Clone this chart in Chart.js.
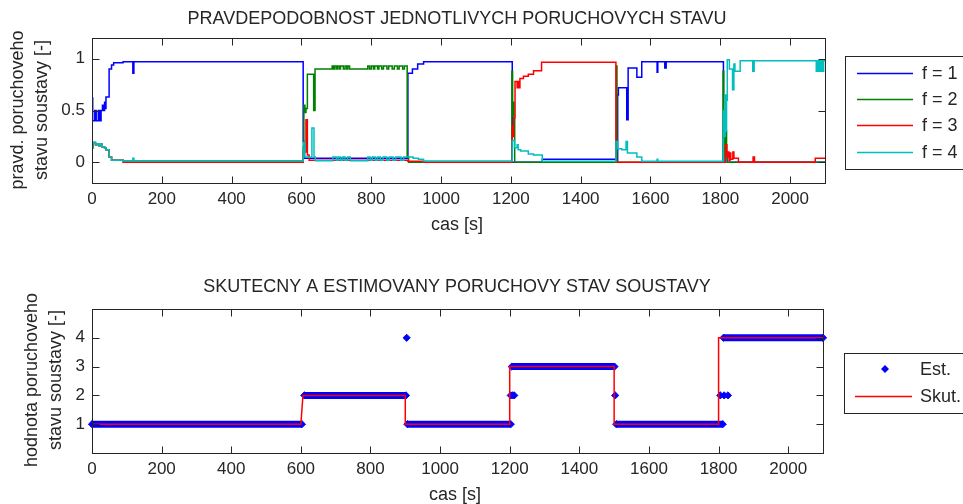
<!DOCTYPE html>
<html><head><meta charset="utf-8">
<script src="https://cdn.jsdelivr.net/npm/chart.js@4/dist/chart.umd.min.js"></script>
<style>
html,body{margin:0;padding:0;background:#fff;}
#wrap{position:relative;width:963px;height:504px;overflow:hidden;background:#fff;}
canvas{position:absolute;left:0;}
#c1{top:0;} #c2{top:252px;}
</style></head><body>
<div id="wrap"><canvas id="c1" width="963" height="252"></canvas><canvas id="c2" width="963" height="252"></canvas></div>
<script>
// ---------- DATA ----------
const timeTicks  = [0,200,400,600,800,1000,1200,1400,1600,1800,2000];
const probTicks  = [0,0.5,1];
const stateTicks = [1,2,3,4];

const topTitle    = 'PRAVDEPODOBNOST JEDNOTLIVYCH PORUCHOVYCH STAVU';
const bottomTitle = 'SKUTECNY A ESTIMOVANY PORUCHOVY STAV SOUSTAVY';
const xAxisLabel  = 'cas [s]';
const topYLabel   = ['pravd. poruchoveho','stavu soustavy [-]'];
const bottomYLabel= ['hodnota poruchoveho','stavu soustavy [-]'];
const probLabels  = ['f = 1','f = 2','f = 3','f = 4'];
const stateLabels = ['Est.','Skut.'];

// f = 1 (held values)
const f1Time = [0,2,8,12,18,22,26,30,33,36,38,40,49,56,62,89,117,120,605,607,
                905,918,933,950,1204,1290,1501,1506,1508,1532,1536,1561,1575,1619,1621,1641,1645,
                1809,1814,1816,1820,2100];
const f1Prob = [0.62,0.40,0.50,0.40,0.50,0.40,0.50,0.55,0.50,0.58,0.52,0.63,0.90,0.94,0.96,0.97,0.86,0.97,0.20,0.04,
                0.86,0.90,0.95,0.97,0.00,0.03,0.00,0.65,0.72,0.41,0.91,0.82,0.97,0.87,0.97,0.91,0.97,
                0.00,0.30,0.10,0.00,0.00];
// f = 2
const f2Time = [0,3,10,14,20,24,28,36,40,49,56,89,
                605,607,610,613,617,635,639,688,
                692,695,700,703,708,712,720,725,730,733,
                738,790,795,800,806,810,818,822,830,835,
                845,850,860,866,875,880,890,895,903,907,
                1203,1205,1207,1209,1211,1502,1504,1808,1810,1812,
                1815,1818,1820,2100];
const f2Prob = [0.14,0.19,0.17,0.18,0.16,0.18,0.15,0.14,0.12,0.05,0.02,0.012,
                0.15,0.55,0.48,0.52,0.85,0.50,0.90,0.93,
                0.90,0.93,0.90,0.93,0.90,0.93,0.90,0.93,0.90,0.93,
                0.90,0.93,0.90,0.93,0.90,0.93,0.90,0.93,0.90,0.93,
                0.90,0.93,0.90,0.93,0.90,0.93,0.90,0.93,0.05,0.00,
                0.88,0.45,0.58,0.42,0.00,0.93,0.00,0.88,0.45,0.05,
                0.30,0.10,0.00,0.00];
// f = 3
const f3Time = [0,3,10,14,20,24,28,36,40,49,
                56,89,605,613,617,622,905,950,1204,1206,
                1208,1212,1218,1220,1224,1226,1236,1250,1265,1288,
                1501,1815,1819,1822,1825,1828,1830,1836,1839,1852,
                1894,1898,2072,2100];
const f3Prob = [0.14,0.19,0.17,0.18,0.16,0.18,0.15,0.14,0.12,0.05,
                0.02,0.00,0.10,0.41,0.07,0.02,0.01,0.00,0.35,0.25,
                0.43,0.78,0.72,0.78,0.72,0.81,0.83,0.85,0.885,0.965,
                0.00,0.17,0.05,0.10,0.02,0.09,0.03,0.10,0.04,0.00,
                0.05,0.00,0.04,0.04];
// f = 4
const f4Time = [0,3,10,14,20,24,28,36,40,49,56,89,117,120,
                605,610,630,636,640,
                690,700,705,712,718,725,732,740,
                790,797,803,812,818,826,834,845,852,862,870,885,893,
                905,920,935,950,
                1204,1210,1218,1221,1228,1250,1265,1290,
                1501,1506,1518,1530,1534,1561,1575,1619,1621,
                1809,1812,1814,1816,1818,1820,1826,1835,1839,1842,1857,1893,1897,
                2075,2078,2081,2084,2087,2090,2093,2096,2100];
const f4Prob = [0.14,0.19,0.17,0.18,0.16,0.18,0.15,0.14,0.12,0.05,0.02,0.012,0.04,0.012,
                0.19,0.05,0.33,0.05,0.015,
                0.05,0.02,0.05,0.02,0.05,0.02,0.05,0.015,
                0.05,0.02,0.05,0.02,0.05,0.02,0.05,0.02,0.05,0.02,0.05,0.02,0.05,
                0.05,0.04,0.03,0.012,
                0.21,0.14,0.17,0.12,0.11,0.08,0.07,0.01,
                0.20,0.13,0.12,0.20,0.09,0.05,0.01,0.03,0.01,
                0.50,0.25,0.65,0.30,0.60,0.99,0.90,0.70,0.95,0.88,0.98,0.88,0.98,
                0.88,0.98,0.88,0.98,0.88,0.98,0.88,0.98,0.98];

// Estimated state: runs of constant estimate and isolated estimates
const estRunStart = [0,   610, 906,  1206, 1506, 1814];
const estRunEnd   = [603, 902, 1203, 1501, 1812, 2100];
const estRunState = [1,   2,   1,    3,    1,    4];
const estSingleTime  = [904, 1203, 1208, 1213, 1503, 1805, 1816, 1827];
const estSingleState = [4,   2,    2,    2,    2,    2,    2,    2];

// True state
const skutTime  = [0,600,606,900,900,1200,1200,1500,1500,1800,1800,2100];
const skutState = [1,1,2,2,1,1,3,3,1,1,4,4];

// ---------- DRAWING ----------
const FONT = '"Liberation Sans", Arial, Helvetica, sans-serif';
const INK = '#262626';
const pairs = (xs, ys) => xs.map((x,i)=>({x:x, y:ys[i]}));

function estPoints(){
  const pts = [];
  const items = [];
  estRunStart.forEach((s,i)=>items.push({t:s, run:[s,estRunEnd[i],estRunState[i]]}));
  estSingleTime.forEach((t,i)=>items.push({t:t, single:[t,estSingleState[i]]}));
  items.sort((a,b)=>a.t-b.t);
  items.forEach(it=>{
    if (it.run){ pts.push({x:it.run[0],y:it.run[2]},{x:it.run[1],y:it.run[2]}); pts.push({x:it.run[1],y:null}); }
    else { pts.push({x:it.single[0],y:it.single[1]}); pts.push({x:it.single[0],y:null}); }
  });
  return pts;
}

function diamond(ctx,x,y,r){
  ctx.beginPath(); ctx.moveTo(x,y-r); ctx.lineTo(x+r,y); ctx.lineTo(x,y+r); ctx.lineTo(x-r,y); ctx.closePath(); ctx.fill();
}

const decor = {
  id:'decor',
  afterDraw(chart, args, o){
    const {ctx, chartArea:a, scales} = chart;
    ctx.save();
    ctx.strokeStyle = INK; ctx.lineWidth = 1;
    const L = Math.round(a.left)+0.5, R = Math.round(a.right)+0.5, T = Math.round(a.top)+0.5, B = Math.round(a.bottom)+0.5;
    ctx.strokeRect(L, T, R-L, B-T);
    const tl = 7;
    ctx.beginPath();
    scales.x.ticks.forEach(t=>{ const px = Math.round(scales.x.getPixelForValue(t.value))+0.5;
      ctx.moveTo(px,B); ctx.lineTo(px,B-tl); ctx.moveTo(px,T); ctx.lineTo(px,T+tl); });
    scales.y.ticks.forEach(t=>{ const py = Math.round(scales.y.getPixelForValue(t.value))+0.5;
      ctx.moveTo(L,py); ctx.lineTo(L+tl,py); ctx.moveTo(R,py); ctx.lineTo(R-tl,py); });
    ctx.stroke();
    ctx.fillStyle = INK;
    ctx.font = '18px ' + FONT;
    ctx.textAlign = 'center'; ctx.textBaseline = 'middle';
    ctx.fillText(o.title, o.titleX, o.titleY);
    ctx.fillText(o.xLabel, o.xLabelX, o.xLabelY);
    o.yLabel.forEach((line,i)=>{ ctx.save(); ctx.translate(o.yLabelX[i], o.yLabelY); ctx.rotate(-Math.PI/2); ctx.fillText(line,0,0); ctx.restore(); });
    const lg = o.legend;
    ctx.strokeRect(lg.x+0.5, lg.y+0.5, lg.w, lg.h);
    ctx.textAlign = 'left';
    chart.data.datasets.forEach((ds,i)=>{
      const ry = lg.rowY[i];
      if (ds.legendKind === 'marker'){ ctx.fillStyle = ds.pointBackgroundColor; diamond(ctx, lg.markerX, ry, 4); }
      else { ctx.strokeStyle = ds.borderColor; ctx.lineWidth = 1.5; ctx.beginPath(); ctx.moveTo(lg.lineX0, ry+0.5); ctx.lineTo(lg.lineX1, ry+0.5); ctx.stroke(); }
      ctx.fillStyle = INK;
      ctx.fillText(ds.label, lg.textX, ry+1);
    });
    ctx.restore();
  }
};

// y scale box is 40 px wide, x scale box 40 px tall, so tick labels fit inside their boxes
function axes(xTicks, yTicks, ymin, ymax){
  const tickFont = {family: FONT, size: 17};
  return {
    x: {type:'linear', min:0, max:2100,
        afterBuildTicks: s=>{ s.ticks = xTicks.map(v=>({value:v})); },
        afterFit: s=>{ s.height = 40; },
        grid:{display:false, drawTicks:false}, border:{display:false},
        ticks:{font:tickFont, color:INK, padding:6, maxRotation:0, minRotation:0, autoSkip:false, callback:v=>String(v)}},
    y: {type:'linear', min:ymin, max:ymax,
        afterBuildTicks: s=>{ s.ticks = yTicks.map(v=>({value:v})); },
        afterFit: s=>{ s.width = 40; },
        grid:{display:false, drawTicks:false}, border:{display:false},
        ticks:{font:tickFont, color:INK, padding:7, autoSkip:false, callback:v=>String(v)}}
  };
}

const probColors = ['#0000ff','#008000','#ff0000','#00bfbf'];
const probSeries = [[f1Time,f1Prob],[f2Time,f2Prob],[f3Time,f3Prob],[f4Time,f4Prob]];

new Chart(document.getElementById('c1'), {
  type:'line',
  data:{datasets: probSeries.map((s,i)=>({
    label: probLabels[i], data: pairs(s[0], s[1]), borderColor: probColors[i], backgroundColor: probColors[i],
    borderWidth: 1.5, pointRadius: 0, stepped: true, order: 4-i, legendKind:'line'
  }))},
  options:{
    responsive:false, animation:false, devicePixelRatio:1,
    layout:{padding:{left:52, top:38, right:138, bottom:29}},
    scales: axes(timeTicks, probTicks, -0.2, 1.2),
    plugins:{legend:{display:false}, tooltip:{enabled:false},
      decor:{title:topTitle, titleX:457, titleY:19, xLabel:xAxisLabel, xLabelX:457, xLabelY:225,
        yLabel:topYLabel, yLabelX:[18,42], yLabelY:110,
        legend:{x:845, y:56, w:140, h:113, rowY:[73,99,125,152], lineX0:857, lineX1:913, markerX:885, textX:922}}}
  },
  plugins:[decor]
});

new Chart(document.getElementById('c2'), {
  type:'line',
  data:{datasets:[
    {label: stateLabels[0], data: estPoints(), borderColor:'#0000ff', backgroundColor:'#0000ff',
     pointBackgroundColor:'#0000ff', pointBorderColor:'#0000ff', pointStyle:'rectRot', pointRadius:3.6, pointBorderWidth:1,
     borderWidth:7, spanGaps:false, order:2, clip:12, legendKind:'marker'},
    {label: stateLabels[1], data: pairs(skutTime, skutState), borderColor:'#ff0000', backgroundColor:'#ff0000',
     borderWidth:1.5, pointRadius:0, order:1, clip:4, legendKind:'line'}
  ]},
  options:{
    responsive:false, animation:false, devicePixelRatio:1,
    layout:{padding:{left:52, top:57, right:140, bottom:11}},
    scales: axes(timeTicks, stateTicks, 0, 5),
    plugins:{legend:{display:false}, tooltip:{enabled:false},
      decor:{title:bottomTitle, titleX:457, titleY:35, xLabel:xAxisLabel, xLabelX:455, xLabelY:243,
        yLabel:bottomYLabel, yLabelX:[32,56], yLabelY:128,
        legend:{x:844, y:101, w:140, h:60, rowY:[117,144], lineX0:855, lineX1:912, markerX:885, textX:920}}}
  },
  plugins:[decor]
});
</script>
</body></html>
